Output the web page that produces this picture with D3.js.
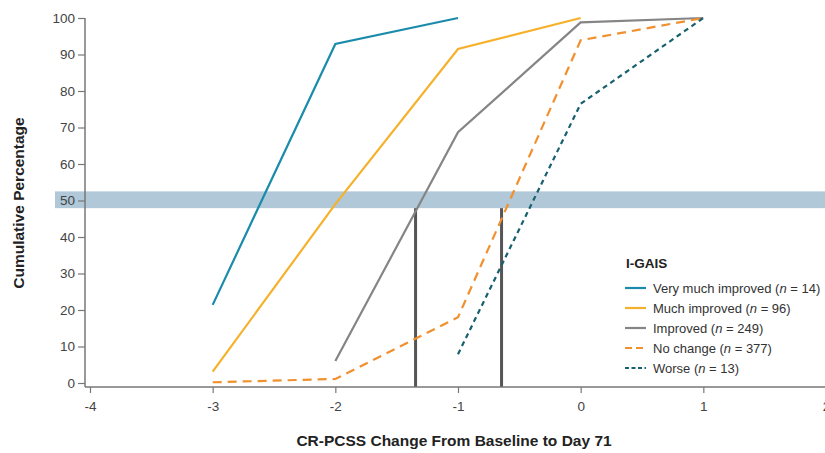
<!DOCTYPE html>
<html>
<head>
<meta charset="utf-8">
<script src="https://cdn.jsdelivr.net/npm/d3@7"></script>
<style>
  body { margin: 0; background: #fff; }
  text { font-family: "Liberation Sans", Arial, sans-serif; }
</style>
</head>
<body>
<div id="chart"></div>
<script>
let width = 825, height = 453;

// data
let xTicks = [-4, -3, -2, -1, 0, 1, 2];
let yTicks = [0, 10, 20, 30, 40, 50, 60, 70, 80, 90, 100];
let veryMuch = [[-3, 21.4], [-2, 92.9], [-1, 100]];
let muchImproved = [[-3, 3.1], [-2, 49], [-1, 91.5], [0, 100]];
let improved = [[-2, 6], [-1, 68.7], [0, 98.8], [1, 100]];
let noChange = [[-3, 0.2], [-2, 1.1], [-1, 18], [0, 93.9], [1, 100]];
let worse = [[-1, 7.9], [0, 76.5], [1, 100]];
let medians = [-1.346, -0.645];
let band = [47.9, 52.5];

let series = [
  {name: "Very much improved", n: 14, values: veryMuch, color: "#1b8bab", dash: null},
  {name: "Much improved", n: 96, values: muchImproved, color: "#f6b12c", dash: null},
  {name: "Improved", n: 249, values: improved, color: "#858585", dash: null},
  {name: "No change", n: 377, values: noChange, color: "#f0902e", dash: "9,6"},
  {name: "Worse", n: 13, values: worse, color: "#17606d", dash: "5,4"}
];

let x = d3.scaleLinear().domain([-4, 2]).range([90, 826]);
let y = d3.scaleLinear().domain([0, 100]).range([383, 18]);

let svg = d3.select("#chart").append("svg")
    .attr("width", width)
    .attr("height", height);

// 50% band
svg.append("rect")
    .attr("x", 55)
    .attr("y", y(band[1]))
    .attr("width", width - 55)
    .attr("height", y(band[0]) - y(band[1]))
    .attr("fill", "#b0c8d7");

// median markers
svg.selectAll(".median")
    .data(medians)
    .enter().append("line")
    .attr("x1", d => x(d)).attr("x2", d => x(d))
    .attr("y1", y(band[0])).attr("y2", 387)
    .attr("stroke", "#555")
    .attr("stroke-width", 3);

// axes
let xAxis = svg.append("g")
    .attr("transform", "translate(0,387)")
    .call(d3.axisBottom(x).tickValues(xTicks).tickSize(6).tickSizeOuter(0).tickFormat(d => String(d)));
xAxis.select(".domain").attr("d", "M85,0H826");

let yAxis = svg.append("g")
    .attr("transform", "translate(85,0)")
    .call(d3.axisLeft(y).tickValues(yTicks).tickSize(7).tickSizeOuter(0));
yAxis.select(".domain").attr("d", "M0," + y(100) + "V387");

svg.selectAll(".domain").attr("stroke", "#777").attr("stroke-width", 1.5);
svg.selectAll(".tick line").attr("stroke", "#777").attr("stroke-width", 1.2);
svg.selectAll(".tick text")
    .attr("fill", "#444")
    .style("font-size", "13.5px")
    .style("font-family", "Liberation Sans, Arial, sans-serif");
xAxis.selectAll(".tick text").attr("dy", "1.1em");

// lines
let line = d3.line().x(d => x(d[0])).y(d => y(d[1]));

svg.selectAll(".series")
    .data(series)
    .enter().append("path")
    .attr("class", "series")
    .attr("d", d => line(d.values))
    .attr("fill", "none")
    .attr("stroke", d => d.color)
    .attr("stroke-width", 2.2)
    .attr("stroke-dasharray", d => d.dash);

// axis titles
svg.append("text")
    .attr("transform", "translate(24,203) rotate(-90)")
    .attr("text-anchor", "middle")
    .style("font-size", "15.5px")
    .style("font-weight", "bold")
    .attr("fill", "#222")
    .text("Cumulative Percentage");

svg.append("text")
    .attr("x", 454)
    .attr("y", 446)
    .attr("text-anchor", "middle")
    .style("font-size", "15.5px")
    .style("font-weight", "bold")
    .attr("fill", "#222")
    .text("CR-PCSS Change From Baseline to Day 71");

// legend
let legend = svg.append("g").attr("transform", "translate(625,0)");
legend.append("text")
    .attr("x", 1).attr("y", 268)
    .style("font-size", "13.5px")
    .style("font-weight", "bold")
    .attr("fill", "#222")
    .text("I-GAIS");

let items = legend.selectAll(".item")
    .data(series)
    .enter().append("g")
    .attr("transform", (d, i) => "translate(0," + (288 + i * 20) + ")");

items.append("line")
    .attr("x1", 0).attr("x2", 21)
    .attr("stroke", d => d.color)
    .attr("stroke-width", 2.2)
    .attr("stroke-dasharray", d => d.dash ? (d.name === "Worse" ? "4,2.5" : "7,4") : null);

let label = items.append("text")
    .attr("x", 28).attr("y", 4.5)
    .style("font-size", "13px")
    .attr("fill", "#333");
label.append("tspan").text(d => d.name + " (");
label.append("tspan").style("font-style", "italic").text("n");
label.append("tspan").text(d => " = " + d.n + ")");
</script>
</body>
</html>
